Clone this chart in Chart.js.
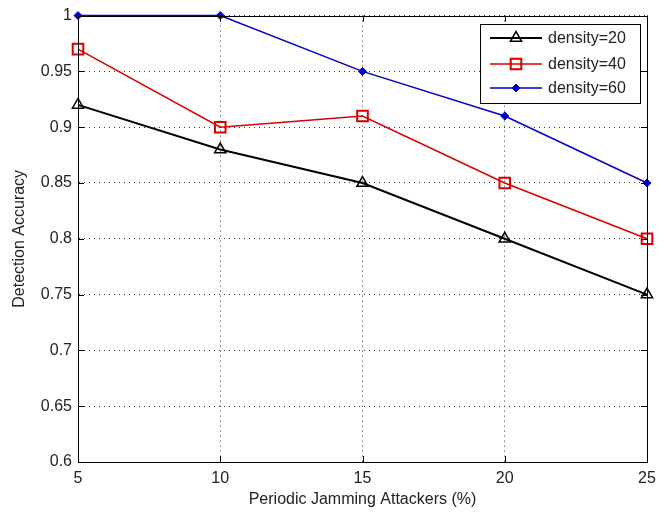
<!DOCTYPE html>
<html lang="en">
<head>
<meta charset="UTF-8">
<title>Detection Accuracy vs Periodic Jamming Attackers</title>
<script src="https://cdn.jsdelivr.net/npm/chart.js"></script>
<style>
    html, body { margin: 0; padding: 0; background: white; }
    #wrap { width: 670px; height: 512px; }
</style>
</head>
<body>
<div id="wrap"><canvas id="accChart" width="670" height="512"></canvas></div>
<script>
    // values
    const attackers = [5, 10, 15, 20, 25];
    const density20 = [0.92, 0.88, 0.85, 0.80, 0.75];
    const density40 = [0.97, 0.90, 0.91, 0.85, 0.80];
    const density60 = [1.00, 1.00, 0.95, 0.91, 0.85];
    const seriesNames = ['density=20', 'density=40', 'density=60'];
    const xTicks = [5, 10, 15, 20, 25];
    const yTicks = [0.6, 0.65, 0.7, 0.75, 0.8, 0.85, 0.9, 0.95, 1];

    const toPoints = vals => attackers.map((x, i) => ({ x: x, y: vals[i] }));

    Chart.defaults.font.family = 'Arial, "Liberation Sans", sans-serif';
    Chart.defaults.font.size = 16;
    Chart.defaults.color = '#222';

    // MATLAB-style box, inward ticks and legend
    const matlabBox = {
        id: 'matlabBox',
        afterDraw(chart) {
            const ctx = chart.ctx;
            const a = chart.chartArea;
            const xs = chart.scales.x, ys = chart.scales.y;
            ctx.save();
            ctx.strokeStyle = '#000';
            ctx.lineWidth = 1;
            ctx.beginPath();
            xTicks.forEach(v => {
                const px = Math.round(xs.getPixelForValue(v)) + 0.5;
                ctx.moveTo(px, a.bottom); ctx.lineTo(px, a.bottom - 6);
                ctx.moveTo(px, a.top); ctx.lineTo(px, a.top + 6);
            });
            yTicks.forEach(v => {
                const py = Math.round(ys.getPixelForValue(v)) + 0.5;
                ctx.moveTo(a.left, py); ctx.lineTo(a.left + 6, py);
                ctx.moveTo(a.right, py); ctx.lineTo(a.right - 6, py);
            });
            ctx.stroke();
            ctx.strokeRect(Math.round(a.left) + 0.5, Math.round(a.top) + 0.5,
                Math.round(a.right - a.left), Math.round(a.bottom - a.top));

            // legend
            const lx = 480, ly = 24, lw = 160, lh = 79;
            ctx.fillStyle = '#fff';
            ctx.fillRect(lx, ly, lw, lh);
            ctx.strokeRect(lx + 0.5, ly + 0.5, lw, lh);
            const rows = [38, 64, 88];
            chart.data.datasets.forEach((ds, i) => {
                const y = rows[i];
                ctx.strokeStyle = ds.borderColor;
                ctx.lineWidth = ds.borderWidth;
                ctx.beginPath();
                ctx.moveTo(490, y); ctx.lineTo(542, y);
                ctx.stroke();
                ctx.fillStyle = ds.pointBackgroundColor;
                ctx.strokeStyle = ds.borderColor;
                ctx.lineWidth = ds.pointBorderWidth;
                Chart.helpers.drawPoint(ctx, {
                    pointStyle: ds.pointStyle,
                    radius: ds.pointRadius,
                    borderWidth: ds.pointBorderWidth,
                    rotation: 0
                }, 516, y);
                ctx.fillStyle = '#222';
                ctx.font = '16px Arial, "Liberation Sans", sans-serif';
                ctx.textBaseline = 'middle';
                ctx.textAlign = 'left';
                ctx.fillText(ds.label, 548, y + 1);
            });
            ctx.restore();
        }
    };

    const gridStyle = {
        color: '#333',
        lineWidth: 1,
        drawTicks: false
    };

    new Chart(document.getElementById('accChart'), {
        type: 'line',
        data: {
            datasets: [
                {
                    label: seriesNames[0],
                    data: toPoints(density20),
                    borderColor: '#000',
                    borderWidth: 2,
                    pointStyle: 'triangle',
                    pointRadius: 6.5,
                    pointBorderWidth: 1.5,
                    pointBackgroundColor: 'rgba(255,255,255,0)',
                    pointBorderColor: '#000',
                    clip: false
                },
                {
                    label: seriesNames[1],
                    data: toPoints(density40),
                    borderColor: '#d80000',
                    borderWidth: 1.5,
                    pointStyle: 'rect',
                    pointRadius: 7.5,
                    pointBorderWidth: 2,
                    pointBackgroundColor: 'rgba(255,255,255,0)',
                    pointBorderColor: '#d80000',
                    clip: false
                },
                {
                    label: seriesNames[2],
                    data: toPoints(density60),
                    borderColor: '#0000c8',
                    borderWidth: 1.5,
                    pointStyle: 'rectRot',
                    pointRadius: 4,
                    pointBorderWidth: 1,
                    pointBackgroundColor: '#0000c8',
                    pointBorderColor: '#0000c8',
                    clip: false
                }
            ]
        },
        options: {
            responsive: false,
            animation: false,
            layout: { padding: { top: 14, right: 23, left: 0, bottom: 0 } },
            plugins: {
                legend: { display: false },
                tooltip: { enabled: false }
            },
            elements: { line: { tension: 0 } },
            scales: {
                x: {
                    type: 'linear',
                    min: 5,
                    max: 25,
                    afterBuildTicks: s => { s.ticks = xTicks.map(v => ({ value: v })); },
                    afterFit: s => { s.height = 50; },
                    grid: gridStyle,
                    border: { display: true, color: '#000', dash: [1, 4] },
                    ticks: { padding: 7, callback: v => String(v), maxRotation: 0 },
                    title: {
                        display: true,
                        text: 'Periodic Jamming Attackers (%)',
                        padding: { top: 0, bottom: 3 }
                    }
                },
                y: {
                    min: 0.6,
                    max: 1,
                    afterBuildTicks: s => { s.ticks = yTicks.map(v => ({ value: v })); },
                    afterFit: s => { s.width = 78; },
                    grid: gridStyle,
                    border: { display: true, color: '#000', dash: [1, 4] },
                    ticks: { padding: 6, callback: v => String(Math.round(v * 100) / 100) },
                    title: {
                        display: true,
                        text: 'Detection Accuracy',
                        padding: { top: 10, bottom: 0 }
                    }
                }
            }
        },
        plugins: [matlabBox]
    });
</script>
</body>
</html>
